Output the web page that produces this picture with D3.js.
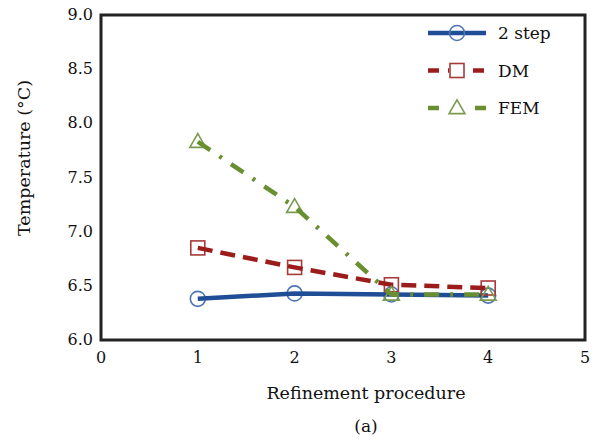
<!DOCTYPE html>
<html>
<head>
<meta charset="utf-8">
<script src="https://cdn.jsdelivr.net/npm/d3@7"></script>
<style>
body{margin:0;background:#fff;}
text{font-family:"DejaVu Serif","Liberation Serif",serif;fill:#111;}
</style>
</head>
<body>
<div id="chart"></div>
<script>
var steps = [1,2,3,4];
var twoStep = [6.38,6.43,6.42,6.41];
var dm = [6.85,6.67,6.51,6.48];
var fem = [7.83,7.23,6.42,6.42];
var xTicks = [0,1,2,3,4,5];
var yTicks = [6.0,6.5,7.0,7.5,8.0,8.5,9.0];

var series = [
  {name:"2 step", values:twoStep, line:"#1f4e96", mark:"#4f76b3", shape:"circle", dash:null},
  {name:"DM", values:dm, line:"#9c1c1c", mark:"#a83a3a", shape:"square", dash:"15,8"},
  {name:"FEM", values:fem, line:"#6a8f30", mark:"#7a9a4c", shape:"triangle", dash:"15,11,3,11"}
];

var width = 596, height = 443;
var margin = {left:101, top:15, right:9, bottom:103};

var svg = d3.select("#chart").append("svg")
  .attr("width", width)
  .attr("height", height);

var x = d3.scaleLinear().domain([0,5]).range([margin.left, width-margin.right-2]);
var y = d3.scaleLinear().domain([6,9]).range([height-margin.bottom, margin.top]);

// frame
svg.append("rect")
  .attr("x", x(0)).attr("y", y(9))
  .attr("width", x(5)-x(0)).attr("height", y(6)-y(9))
  .style("fill","none").style("stroke","#222").style("stroke-width",3);

// tick labels
svg.selectAll(".ylab").data(yTicks).enter().append("text")
  .attr("x", x(0)-8).attr("y", function(d){return y(d)+5;})
  .attr("text-anchor","end").style("font-size","16px")
  .text(function(d){return d.toFixed(1);});

svg.selectAll(".xlab").data(xTicks).enter().append("text")
  .attr("x", function(d){return x(d);}).attr("y", 363)
  .attr("text-anchor","middle").style("font-size","16px")
  .text(function(d){return d;});

svg.append("text")
  .attr("transform","translate(30,"+158+") rotate(-90)")
  .attr("text-anchor","middle").style("font-size","17.5px")
  .text("Temperature (°C)");

svg.append("text")
  .attr("x", 366).attr("y", 399)
  .attr("text-anchor","middle").style("font-size","17.5px")
  .text("Refinement procedure");

svg.append("text")
  .attr("x", 366).attr("y", 432)
  .attr("text-anchor","middle").style("font-size","17px")
  .text("(a)");

var line = d3.line()
  .x(function(d,i){return x(steps[i]);})
  .y(function(d){return y(d);});

function marker(g, shape, color, cx, cy){
  if(shape=="circle"){
    g.append("circle").attr("cx",cx).attr("cy",cy).attr("r",7.5)
      .style("fill","none").style("stroke",color).style("stroke-width",1.6);
  } else if(shape=="square"){
    g.append("rect").attr("x",cx-7).attr("y",cy-7).attr("width",14).attr("height",14)
      .style("fill","none").style("stroke",color).style("stroke-width",1.6);
  } else {
    var s = d3.symbol().type(d3.symbolTriangle).size(110);
    g.append("path").attr("d", s()).attr("transform","translate("+cx+","+(cy+1)+")")
      .style("fill","none").style("stroke",color).style("stroke-width",1.6);
  }
}

series.forEach(function(s){
  var g = svg.append("g");
  s.values.forEach(function(v,i){ marker(g, s.shape, s.mark, x(steps[i]), y(v)); });
  g.append("path").datum(s.values)
    .attr("d", line)
    .style("fill","none").style("stroke", s.line)
    .style("stroke-width",4.5)
    .style("stroke-dasharray", s.dash);
});

// legend
var leg = svg.selectAll(".leg").data(series).enter().append("g")
  .attr("transform", function(d,i){return "translate(0,"+(33+i*37.5)+")";});

leg.append("line")
  .attr("x1",428).attr("x2",486).attr("y1",0).attr("y2",0)
  .style("stroke", function(d){return d.line;})
  .style("stroke-width",4.5)
  .style("stroke-dasharray", function(d){return d.name=="2 step" ? null : (d.name=="DM" ? "11,9,15,10" : "11,15,11,10");});

leg.each(function(d){
  var g = d3.select(this);
  if(d.shape!="circle") g.append("rect").attr("x",449).attr("y",-9).attr("width",16).attr("height",18).style("fill","#fff");
  marker(g, d.shape, d.mark, 457, 0);
});

leg.append("text")
  .attr("x",498).attr("y",6)
  .style("font-size","17px")
  .text(function(d){return d.name;});
</script>
</body>
</html>
